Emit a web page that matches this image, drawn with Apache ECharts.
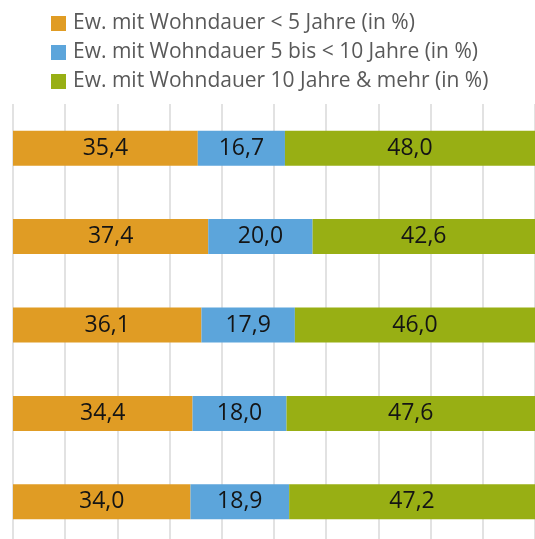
<!DOCTYPE html>
<html>
<head>
<meta charset="utf-8">
<script src="https://cdn.jsdelivr.net/npm/echarts@6/dist/echarts.min.js"></script>
<style>
  html, body { margin: 0; padding: 0; background: #fff; overflow: hidden; }
  /* etwas höher als das Fenster: die unterste Kategorie läuft im Original unten aus dem Bild */
  #chart { width: 535px; height: 546px; }
</style>
</head>
<body>
<div id="chart"></div>
<script>
// Kategorien (keine sichtbaren Beschriftungen im Original)
const categories = ['Gruppe 1', 'Gruppe 2', 'Gruppe 3', 'Gruppe 4', 'Gruppe 5']
const seriesNames = [
  'Ew. mit Wohndauer < 5 Jahre (in %)',
  'Ew. mit Wohndauer 5 bis < 10 Jahre (in %)',
  'Ew. mit Wohndauer 10 Jahre & mehr (in %)'
]
const unter5 = [35.4, 37.4, 36.1, 34.4, 34.0]
const fuenfBis10 = [16.7, 20.0, 17.9, 18.0, 18.9]
const ab10 = [48.0, 42.6, 46.0, 47.6, 47.2]
const colors = ['#E09C24', '#5CA5DB', '#98AF14']

const fontFamily = '"Open Sans", sans-serif'

const barLabel = {
  show: true,
  position: 'inside',
  color: '#141414',
  fontSize: 23,
  fontFamily,
  formatter: p => p.value.toFixed(1).replace('.', ',')
}

const makeSeries = (name, data, color) => ({
  name,
  type: 'bar',
  stack: 'total',
  data,
  barWidth: 35,
  itemStyle: { color },
  label: barLabel,
  emphasis: { disabled: true }
})

const option = {
  animation: false,
  color: colors,
  legend: {
    orient: 'vertical',
    left: 51,
    top: 13,
    padding: 0,
    itemWidth: 15,
    itemHeight: 15,
    itemGap: 8,
    icon: 'rect',
    textStyle: {
      color: '#595959',
      fontSize: 21,
      fontFamily,
      lineHeight: 21,
      padding: [0, 0, 0, 2]
    },
    data: seriesNames
  },
  grid: {
    left: 13,
    right: 0,
    top: 104,
    bottom: 0,
    containLabel: false
  },
  xAxis: {
    type: 'value',
    min: 0,
    max: 100,
    interval: 10,
    axisLabel: { show: false },
    axisLine: { show: false },
    axisTick: { show: false },
    splitLine: { lineStyle: { color: '#d9d9d9', width: 1.5 } }
  },
  yAxis: {
    type: 'category',
    inverse: true,
    data: categories,
    axisLabel: { show: false },
    axisLine: { show: false },
    axisTick: { show: false }
  },
  series: [
    makeSeries(seriesNames[0], unter5, colors[0]),
    makeSeries(seriesNames[1], fuenfBis10, colors[1]),
    makeSeries(seriesNames[2], ab10, colors[2])
  ]
}

const myChart = echarts.init(document.getElementById('chart'))
myChart.setOption(option)
</script>
</body>
</html>
